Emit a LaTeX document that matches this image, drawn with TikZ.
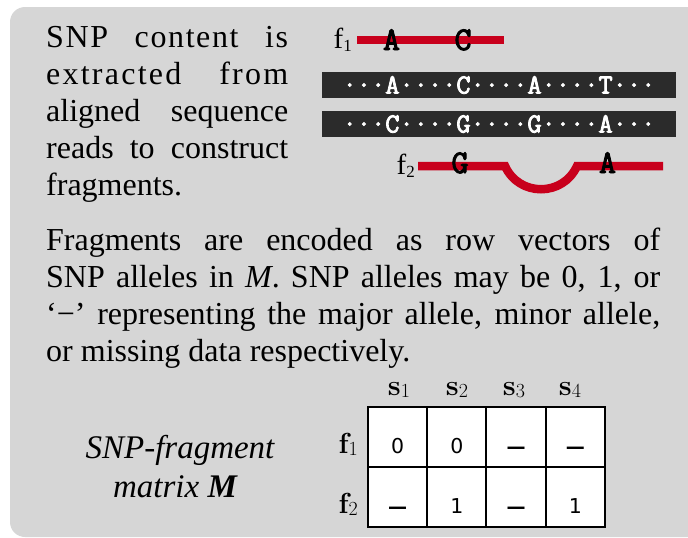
\documentclass[tikz,border=0pt]{standalone}
\usepackage{fontspec}
\setmainfont{Liberation Serif}
\newfontfamily\cellfont{DejaVu Sans}
\newfontfamily\cmfont{Latin Modern Roman}
\newfontfamily\seqfont{Latin Modern Mono}[FakeBold=3]

\definecolor{panelgray}{RGB}{214,214,214}
\definecolor{readbar}{RGB}{43,43,43}
\definecolor{fragred}{RGB}{200,0,28}

% base symbol with a lowered numeric index: {base}{index}{index size}{drop}
\newcommand\withsub[4]{#1\raisebox{-#4pt}{\fontsize{#3}{#3}\selectfont\mdseries #2}}

\tikzset{
  panel/.style={fill=panelgray, rounded corners=15pt},
  bodytext/.style={anchor=base west, inner sep=0pt, align=justify,
    font=\fontsize{32}{37}\selectfont},
  readbox/.style={fill=readbar, minimum width=354pt, minimum height=26pt,
    inner sep=0pt, text=white, text height=17pt, text depth=0pt,
    font=\seqfont\fontsize{27.6}{27.6}\selectfont},
  fragline/.style={draw=fragred, line width=8.5pt},
  fragbase/.style={anchor=base, inner sep=0pt,
    font=\seqfont\fontsize{33}{33}\selectfont},
  readlabel/.style={anchor=base east, inner sep=0pt,
    font=\fontsize{29}{29}\selectfont},
  rowlabel/.style={anchor=base east, inner sep=0pt,
    font=\cmfont\bfseries\fontsize{29}{29}\selectfont},
  collabel/.style={anchor=base, inner sep=0pt,
    font=\cmfont\bfseries\fontsize{29}{29}\selectfont},
  cell/.style={draw, line width=2pt, fill=white, minimum width=59.25pt,
    minimum height=60pt, inner sep=0pt, text height=32pt, text depth=0pt,
    font=\cellfont\fontsize{20.5}{20}\selectfont},
  gapmark/.style={font=\cellfont\bfseries\fontsize{19}{19}\selectfont},
  caption/.style={anchor=base, inner sep=0pt,
    font=\itshape\fontsize{33}{33}\selectfont},
}

\begin{document}
\begin{tikzpicture}[x=1pt, y=-1pt]
\useasboundingbox (0,0) rectangle (688,538);
\clip (0,0) rectangle (688,538);
\fill[panel] (10,7) rectangle (720,537);

% introductory paragraph
\node[bodytext, text width=242pt] (intro) at (46,47)
  {\tolerance=10000\relax\hbadness=10000\relax
   {\addfontfeatures{LetterSpace=5}SNP content is}\linebreak
   {\addfontfeatures{LetterSpace=7}extracted from}\linebreak
   aligned sequence\linebreak
   reads to construct\linebreak
   fragments.};

% aligned sequence reads
\node[readbox] (read1) at (499,85) {···A····C····A····T···};
\node[readbox] (read2) at (499,124) {···C····G····G····A···};

% fragment f1
\coordinate (f1start) at (357,40);
\coordinate (f1end) at (504,40);
\draw[fragline] (f1start) -- (f1end);
\node[readlabel] (f1lab) at (352,48) {\withsub{f}{1}{17}{3}};
\node[fragbase] (f1a) at (391.5,50) {A};
\node[fragbase] (f1b) at (463,50) {C};

% fragment f2, spanning a gap
\coordinate (f2start) at (418,166);
\coordinate (gapL) at (505,166);
\coordinate (gapR) at (577,166);
\coordinate (f2end) at (663,166);
\draw[fragline] (f2start) -- (gapL)
  .. controls (519,197) and (563,197) .. (gapR) -- (f2end);
\node[readlabel] (f2lab) at (415,174) {\withsub{f}{2}{17}{3}};
\node[fragbase] (f2a) at (460,173) {G};
\node[fragbase] (f2b) at (607.5,173) {A};

% second paragraph
\node[bodytext, text width=614pt] (encode) at (46,250)
  {\tolerance=10000\relax\hbadness=10000\relax
   Fragments are encoded as row vectors of\linebreak
   SNP alleles in \textit{M}. SNP alleles may be 0, 1, or\linebreak
   ‘−’ representing the major allele, minor allele,\linebreak
   or missing data respectively.};

% matrix caption
\node[caption] (capA) at (180,458) {SNP-fragment};
\node[caption] (capB) at (175,497) {matrix \textbf{M}};

% SNP-fragment matrix
\node[cell] (m11) at (397.6,437) {0};
\node[cell] (m12) at (456.9,437) {0};
\node[cell, gapmark] (m13) at (516.1,437) {—};
\node[cell, gapmark] (m14) at (575.4,437) {—};
\node[cell, gapmark] (m21) at (397.6,497) {—};
\node[cell] (m22) at (456.9,497) {1};
\node[cell, gapmark] (m23) at (516.1,497) {—};
\node[cell] (m24) at (575.4,497) {1};

\node[collabel] (s1) at (399,395) {\withsub{s}{1}{20}{2}};
\node[collabel] (s2) at (457,395) {\withsub{s}{2}{20}{2}};
\node[collabel] (s3) at (514,395) {\withsub{s}{3}{20}{2}};
\node[collabel] (s4) at (570,395) {\withsub{s}{4}{20}{2}};

\node[rowlabel] (r1) at (358,453) {\withsub{f}{1}{20}{2}};
\node[rowlabel] (r2) at (358,513) {\withsub{f}{2}{20}{2}};
\end{tikzpicture}
\end{document}
